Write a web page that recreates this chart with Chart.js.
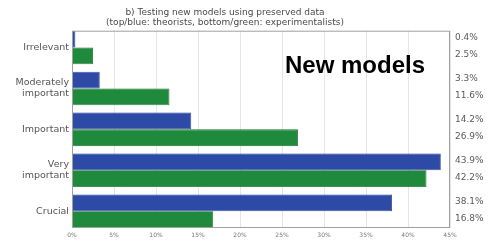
<!DOCTYPE html>
<html>
<head>
<meta charset="utf-8">
<script src="https://cdn.jsdelivr.net/npm/chart.js@4/dist/chart.umd.min.js"></script>
<style>
  html, body { margin: 0; padding: 0; background: #fff; }
  #wrap { width: 492px; height: 247px; }
</style>
</head>
<body>
<div id="wrap"><canvas id="myChart" width="492" height="247"></canvas></div>
<script>
// values
const categories = ['Irrelevant', ['Moderately', 'important'], 'Important', ['Very', 'important'], 'Crucial']
const theorists = [0.4, 3.3, 14.2, 43.9, 38.1]
const experimentalists = [2.5, 11.6, 26.9, 42.2, 16.8]
const xTicks = [0, 5, 10, 15, 20, 25, 30, 35, 40, 45]
const titleLines = ['b) Testing new models using preserved data', '(top/blue: theorists, bottom/green: experimentalists)']

const font = 'DejaVu Sans'

function toPoints(arr) {
  return arr.map((v, i) => ({ x: v, y: i }))
}

// frame, value labels on the right and the "New models" note
const extras = {
  id: 'extras',
  afterDatasetsDraw(chart) {
    const ctx = chart.ctx
    const a = chart.chartArea
    ctx.save()
    ctx.strokeStyle = '#a0a0a0'
    ctx.lineWidth = 1
    ctx.strokeRect(a.left + 0.5, a.top + 0.5, a.right - a.left - 1, a.bottom - a.top - 1)

    ctx.fillStyle = '#5a5a5a'
    ctx.font = '9px "' + font + '"'
    ctx.textAlign = 'left'
    ctx.textBaseline = 'middle'
    chart.data.datasets.forEach((ds, di) => {
      const meta = chart.getDatasetMeta(di)
      meta.data.forEach((bar, i) => {
        ctx.fillText(ds.data[i].x.toFixed(1) + '%', a.right + 5, bar.y - 1)
      })
    })

    ctx.fillStyle = '#000'
    ctx.font = 'bold 24px "Liberation Sans"'
    ctx.textBaseline = 'alphabetic'
    ctx.fillText('New models', 285, 73)
    ctx.restore()
  }
}

const ctx = document.getElementById('myChart').getContext('2d')
const myChart = new Chart(ctx, {
  type: 'bar',
  data: {
    datasets: [{
      label: 'theorists',
      data: toPoints(theorists),
      backgroundColor: '#2c4aa6',
      borderColor: '#22388a',
      borderWidth: 0.8,
      categoryPercentage: 0.82,
      barPercentage: 1
    }, {
      label: 'experimentalists',
      data: toPoints(experimentalists),
      backgroundColor: '#1f8a3b',
      borderColor: '#17702d',
      borderWidth: 0.8,
      categoryPercentage: 0.82,
      barPercentage: 1
    }]
  },
  options: {
    indexAxis: 'y',
    responsive: false,
    animation: false,
    layout: { padding: { right: 42, left: 0, top: 0, bottom: 0 } },
    plugins: {
      legend: { display: false },
      tooltip: { enabled: false },
      title: {
        display: true,
        text: titleLines,
        color: '#4a4a4a',
        font: { family: font, size: 9, weight: 'normal', lineHeight: 1.15 },
        padding: { top: 7, bottom: 3 }
      }
    },
    scales: {
      x: {
        type: 'linear',
        min: 0,
        max: 45,
        afterBuildTicks: (scale) => { scale.ticks = xTicks.map(v => ({ value: v })) },
        afterFit: (scale) => { scale.height = 19 },
        grid: { color: '#e6e6e6', drawTicks: false },
        border: { display: false },
        ticks: {
          color: '#777',
          font: { family: font, size: 6 },
          padding: 4,
          maxRotation: 0,
          callback: (v) => v + '%'
        }
      },
      y: {
        type: 'linear',
        reverse: true,
        offset: false,
        min: -0.41,
        max: 4.41,
        afterBuildTicks: (scale) => { scale.ticks = categories.map((c, i) => ({ value: i })) },
        afterFit: (scale) => { scale.width = 72 },
        grid: { display: false, drawTicks: false, offset: false },
        border: { display: false },
        ticks: {
          color: '#555',
          font: { family: font, size: 9.5, lineHeight: 1.15 },
          padding: 3,
          callback: (v) => categories[v]
        }
      }
    }
  },
  plugins: [extras]
})
</script>
</body>
</html>
